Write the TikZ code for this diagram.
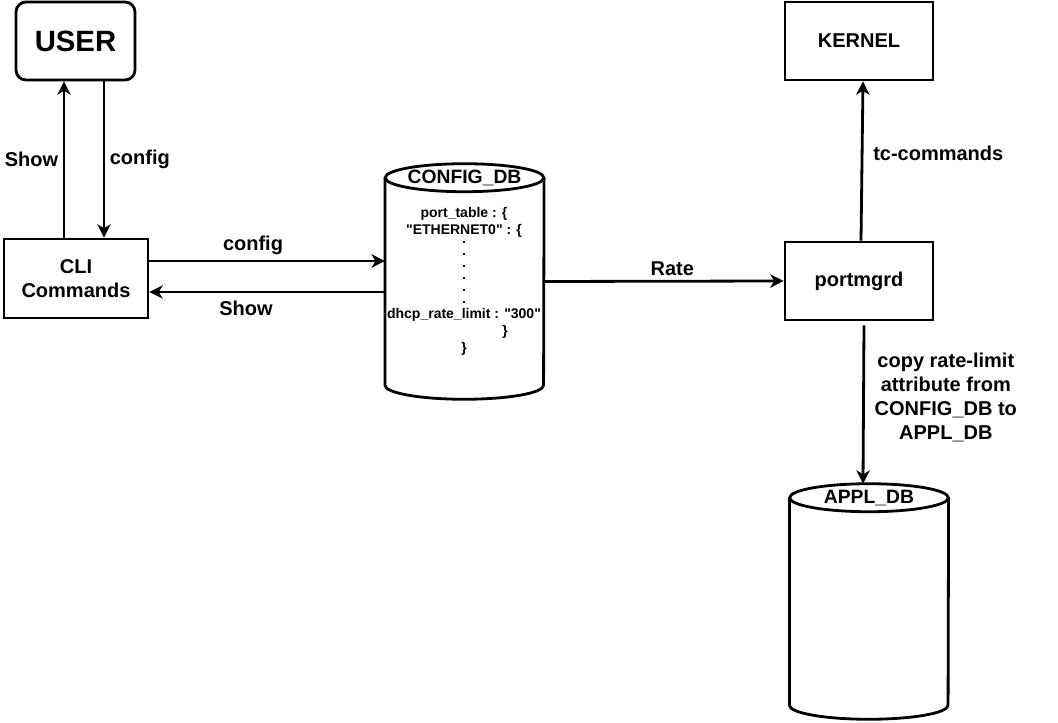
\documentclass[tikz,border=0pt]{standalone}
\usepackage{fontspec}
\setmainfont{Liberation Sans}
\usetikzlibrary{arrows.meta}

\begin{document}
\begin{tikzpicture}[x=0.75pt, y=-0.75pt, >={Stealth[length=10pt, width=10pt, inset=3pt]},
          box/.style={draw, line width=2.1pt, minimum width=111pt, minimum height=58.5pt, inner sep=0pt, align=center, font=\bfseries\fontsize{15}{18}\selectfont},
          drum/.style={minimum width=119pt, minimum height=176.25pt, inner sep=0pt},
          lbl/.style={align=center, font=\bfseries\fontsize{15}{18}\selectfont},
          dbtitle/.style={inner sep=0pt, font=\bfseries\fontsize{14.5}{17}\selectfont},
          small/.style={inner sep=0pt, font=\bfseries\fontsize{10.5}{12}\selectfont},
          link/.style={->, line width=2.1pt}]
          \useasboundingbox (0,0) rectangle (1058,723);
          \coordinate (cfgx) at (104,0);
          \coordinate (shwx) at (64,0);
          \coordinate (cfgy) at (0,261);
          \coordinate (shwy) at (0,292);
          \node[box, rounded corners=7.5pt, minimum width=89.25pt, font=\bfseries\fontsize{22}{26}\selectfont] (user) at (75.5,41) {USER};
          \node[box, minimum width=108pt, minimum height=59.25pt] (cli) at (76,278.5) {CLI\\Commands};
          \node[box] (kernel) at (859,41) {KERNEL};
          \node[box] (portmgrd) at (859,281) {portmgrd};
          \node[drum] (configdb) at (464.5,281.5) {};
          \node[drum] (appldb) at (869,601.5) {};
          \foreach \db in {configdb,appldb}
          {
          \draw[line width=2.1pt] ([yshift=-10.5pt]\db.north west) -- ([yshift=10.5pt]\db.south west) arc[start angle=180, end angle=360, x radius=59.5pt, y radius=10.5pt] -- ([yshift=-10.5pt]\db.north east);
          \draw[line width=2.1pt] ([yshift=-10.5pt]\db.north) ellipse [x radius=59.5pt, y radius=10.5pt];
          }
          \node[dbtitle] (cfgtitle) at ([yshift=-10.5pt]configdb.north) {CONFIG\_DB};
          \node[dbtitle] (appltitle) at ([yshift=-10.5pt]appldb.north) {APPL\_DB};
          \node[small] (porttbl) at (464,214) {port\_table : \{};
          \node[small] (eth) at (464,231) {\textquotedbl ETHERNET0\textquotedbl{} : \{};
          \foreach \y in {242,254,...,302}
          {
          \fill (462.6,\y-1.4) rectangle (465.4,\y+1.4);
          }
          \node[small] (ratelim) at (464,315) {dhcp\_rate\_limit : \textquotedbl 300\textquotedbl};
          \node[small] (close1) at (505,332) {\}};
          \node[small] (close2) at (464,349) {\}};
          \draw[link] (user.south -| cfgx) -- (cli.north -| cfgx) node[midway, right, lbl] {config};
          \draw[link] (cli.north -| shwx) -- (user.south -| shwx) node[midway, left, lbl] {Show};
          \draw[link] (cli.east |- cfgy) -- (configdb.west |- cfgy) node[pos=0.44, above, lbl] {config};
          \draw[link] (configdb.west |- shwy) -- (cli.east |- shwy) node[pos=0.59, below, yshift=-2pt, lbl] {Show};
          \draw[link] (configdb.east) -- (portmgrd.west) node[pos=0.535, above, lbl] {Rate};
          \draw[link] ([xshift=1.5pt]portmgrd.north) -- ([xshift=3pt]kernel.south) node[pos=0.55, right, xshift=4pt, lbl] {tc-commands};
          \draw[link] ([xshift=3.75pt, yshift=-3pt]portmgrd.south) -- ([xshift=-4.5pt]appldb.north) node[pos=0.455, right, xshift=4pt, lbl] {copy rate-limit\\attribute from\\CONFIG\_DB to\\APPL\_DB};
        \end{tikzpicture}
\end{document}
